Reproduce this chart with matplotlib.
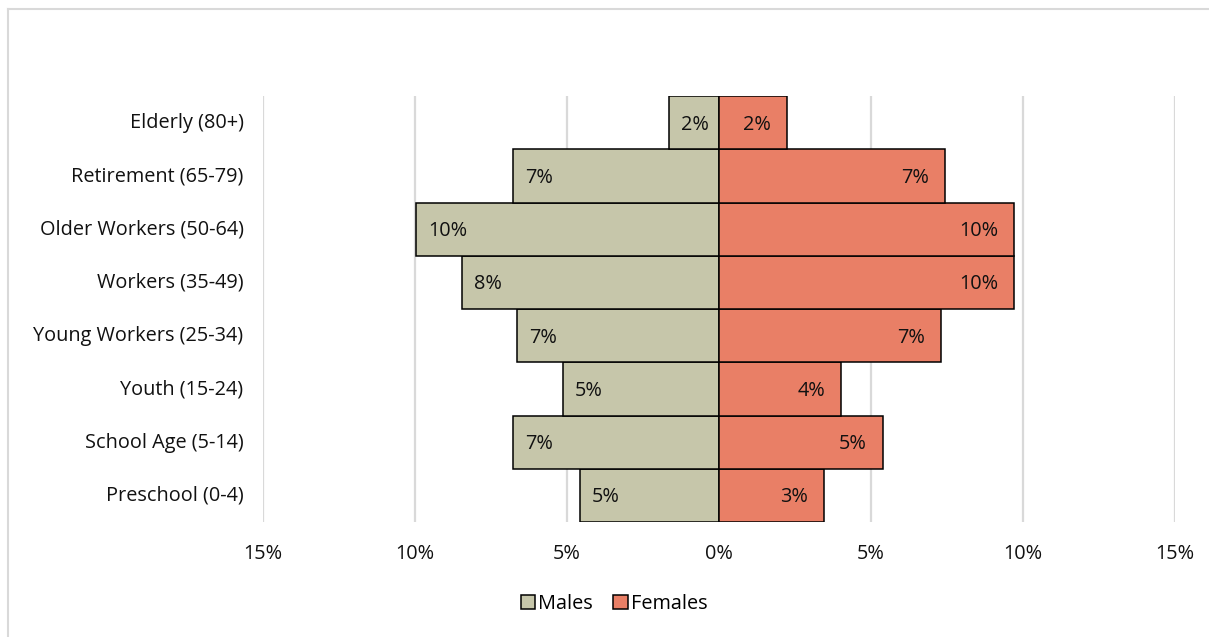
import matplotlib

matplotlib.use("Agg")
import matplotlib.pyplot as plt
import matplotlib.transforms as mtransforms
from matplotlib.lines import Line2D
from matplotlib.patches import Patch

plt.rcParams["font.family"] = ["Open Sans", "DejaVu Sans"]

# age groups, bottom to top
GROUPS = [
    "Preschool (0-4)",
    "School Age (5-14)",
    "Youth (15-24)",
    "Young Workers (25-34)",
    "Workers (35-49)",
    "Older Workers (50-64)",
    "Retirement (65-79)",
    "Elderly (80+)",
]
# share of population, percent
MALES = [4.57, 6.78, 5.13, 6.64, 8.45, 9.97, 6.78, 1.64]
FEMALES = [3.45, 5.39, 4.01, 7.30, 9.70, 9.70, 7.45, 2.24]
TICKS = [-15, -10, -5, 0, 5, 10, 15]

MALE_COLOR = "#C6C6AA"
FEMALE_COLOR = "#E97F66"
FS = 14.3


def main() -> None:
    fig = plt.figure(figsize=(12.09, 6.37), dpi=100)
    ax = fig.add_axes([263 / 1209, 1 - 522 / 637, (1175 - 263) / 1209, (522 - 96) / 637])

    y = range(len(GROUPS))
    male_vals = [-v for v in MALES]
    ax.barh(y, male_vals, height=1.0, color=MALE_COLOR, edgecolor="black",
            linewidth=1.1, zorder=3)
    ax.barh(y, FEMALES, height=1.0, color=FEMALE_COLOR, edgecolor="black",
            linewidth=1.1, zorder=3)

    for i, (m, f) in enumerate(zip(MALES, FEMALES)):
        ax.annotate(f"{m:.0f}%", (-m, i), xytext=(12, -2), textcoords="offset pixels",
                    ha="left", va="center", fontsize=FS, color="#111111", zorder=4)
        ax.annotate(f"{f:.0f}%", (f, i), xytext=(-16, -2), textcoords="offset pixels",
                    ha="right", va="center", fontsize=FS, color="#111111", zorder=4)

    ax.set_xlim(-15, 15)
    ax.set_ylim(-0.5, len(GROUPS) - 0.5)
    ax.set_xticks(TICKS)
    ax.set_xticklabels([f"{abs(t)}%" for t in TICKS])
    ax.set_yticks(list(y))
    ax.set_yticklabels(GROUPS)
    ax.tick_params(axis="both", length=0, labelsize=FS, colors="#111111")
    ax.tick_params(axis="x", pad=16)
    ax.tick_params(axis="y", pad=14)
    # nudge category labels up a touch
    shift = mtransforms.ScaledTranslation(0, 2 / 100, fig.dpi_scale_trans)
    for lbl in ax.get_yticklabels():
        lbl.set_transform(lbl.get_transform() + shift)
    ax.grid(axis="x", color="#D9D9D9", linewidth=1.6, zorder=0)
    for spine in ax.spines.values():
        spine.set_visible(False)

    handles = [
        Patch(facecolor=MALE_COLOR, edgecolor="black", linewidth=1.1, label="Males"),
        Patch(facecolor=FEMALE_COLOR, edgecolor="black", linewidth=1.1, label="Females"),
    ]
    fig.legend(handles=handles, loc="center", bbox_to_anchor=(614 / 1209, 1 - 604 / 637),
               ncol=2, frameon=False, fontsize=FS, handlelength=0.75, handleheight=0.75,
               handletextpad=0.15, columnspacing=1.0)

    # outer chart border (only top and left visible in the crop)
    fig.add_artist(Line2D([7.5 / 1209, 7.5 / 1209], [0, 1 - 9 / 637],
                          color="#D9D9D9", linewidth=1.5, transform=fig.transFigure))
    fig.add_artist(Line2D([7.5 / 1209, 1], [1 - 9 / 637, 1 - 9 / 637],
                          color="#D9D9D9", linewidth=1.5, transform=fig.transFigure))

    fig.savefig("out.png", dpi=100)
    plt.close(fig)


if __name__ == "__main__":
    main()
